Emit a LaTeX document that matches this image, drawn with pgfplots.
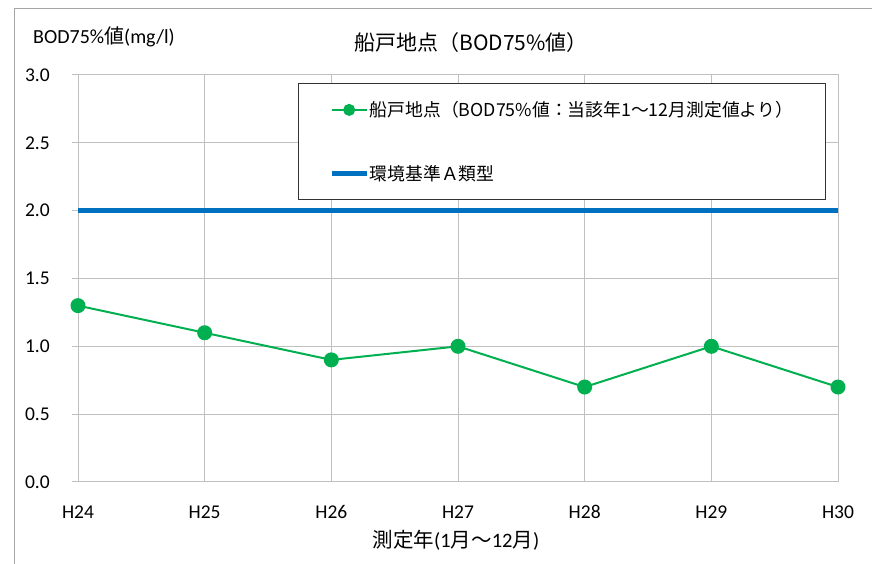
\documentclass[border=0pt]{standalone}
\usepackage{fontspec}
\setmainfont{Carlito}
\newfontfamily\cjk{Noto Sans CJK JP}
\usepackage{pgfplots}
\pgfplotsset{compat=1.18}
\definecolor{exgreen}{HTML}{00B050}
\definecolor{exblue}{HTML}{0070C0}
\definecolor{gridgray}{HTML}{C0C0C0}
\definecolor{framegray}{HTML}{A6A6A6}
\begin{document}
\begin{tikzpicture}[x=1bp,y=1bp]
\useasboundingbox (0,0) rectangle (872,564);
\draw[framegray, line width=1bp] (14,-5) -- (14,555) -- (880,555);
\begin{axis}[
  at={(78bp,82bp)}, anchor=south west,
  scale only axis, width=760bp, height=407bp,
  xmin=0, xmax=6, ymin=0, ymax=3,
  xtick={0,1,2,3,4,5,6},
  xticklabels={H24,H25,H26,H27,H28,H29,H30},
  ytick={0,0.5,1,1.5,2,2.5,3},
  /pgf/number format/fixed, /pgf/number format/fixed zerofill, /pgf/number format/precision=1,
  /pgf/number format/assume math mode=true,
  ticklabel style={font=\fontsize{19.5bp}{22bp}\selectfont, inner sep=0pt},
  xticklabel style={anchor=base, yshift=-31bp},
  yticklabel style={anchor=east, xshift=-22bp},
  grid=major,
  major grid style={gridgray, line width=1bp},
  axis line style={gridgray, line width=1bp},
  xtick style={draw=none},
  ytick style={gridgray, line width=1bp},
  ytick pos=left, tick align=outside, major tick length=6bp,
  legend style={at={(0.2895,0.980)}, anchor=north west,
    draw=black!80, line width=0.8bp, fill=white,
    font=\cjk\fontsize{17.8bp}{20bp}\selectfont,
    inner xsep=31bp, inner ysep=17bp, row sep=45bp,
    nodes={inner sep=1bp}},
  legend cell align=left,
  legend image code/.code={\draw[mark repeat=2,mark phase=2,#1,mark size=5bp] plot coordinates {(0bp,0bp)(17.5bp,0bp)(35bp,0bp)};},
  clip=false,
]
\addplot[exgreen, line width=2bp, mark=*, mark size=6.5bp, mark options={fill=exgreen, draw=exgreen}]
  coordinates {(0,1.3) (1,1.1) (2,0.9) (3,1.0) (4,0.7) (5,1.0) (6,0.7)};
\addlegendentry{船戸地点（BOD75\%値：当該年1～12月測定値より）\hspace{10bp}}
\addplot[exblue, line width=4.5bp] coordinates {(0,2) (6,2)};
\addlegendentry{環境基準Ａ類型}
\end{axis}
\node[anchor=center, font=\cjk\fontsize{21bp}{24bp}\selectfont] at (471,521) {船戸地点（BOD75\%値）};
\node[anchor=west, inner sep=0pt, font=\fontsize{20bp}{22bp}\selectfont] at (33,527) {BOD75\%{\cjk 値}(mg/l)};
\node[anchor=center, inner sep=0pt, font=\fontsize{20.5bp}{22bp}\selectfont] at (456,24) {{\cjk 測定年}(1{\cjk 月～}12{\cjk 月})};
\end{tikzpicture}
\end{document}
